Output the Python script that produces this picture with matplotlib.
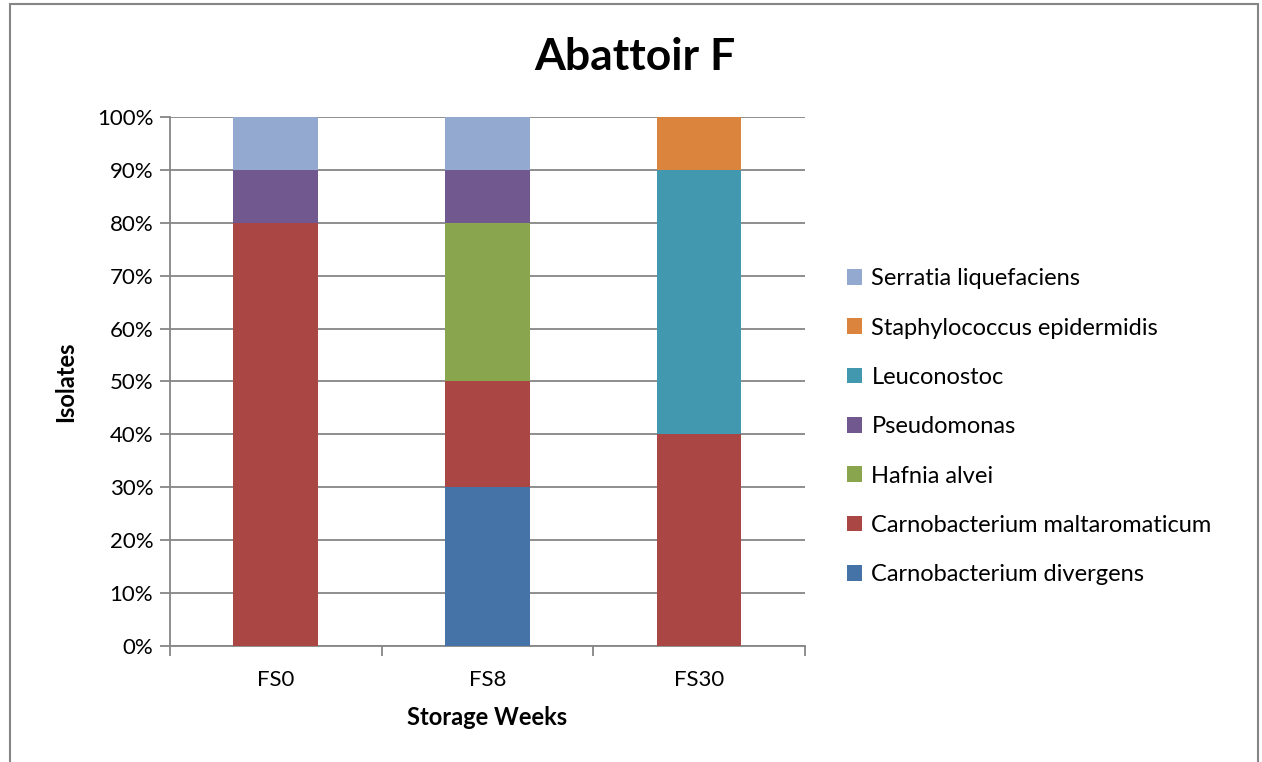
import matplotlib
matplotlib.use("Agg")
import matplotlib.pyplot as plt
from matplotlib.patches import Rectangle
import numpy as np

plt.rcParams['font.family'] = ['Lato', 'DejaVu Sans']

categories = ['FS0', 'FS8', 'FS30']
species = [
    'Carnobacterium divergens',
    'Carnobacterium maltaromaticum',
    'Hafnia alvei',
    'Pseudomonas',
    'Leuconostoc',
    'Staphylococcus epidermidis',
    'Serratia liquefaciens',
]
# percentage of isolates per sample, bottom to top
divergens = [0, 30, 0]
maltaromaticum = [80, 20, 40]
hafnia = [0, 30, 0]
pseudomonas = [10, 10, 0]
leuconostoc = [0, 0, 50]
staphylococcus = [0, 0, 10]
serratia = [10, 10, 0]
values = [divergens, maltaromaticum, hafnia, pseudomonas,
          leuconostoc, staphylococcus, serratia]
colors = ['#4572A7', '#AA4643', '#89A54E', '#71588F',
          '#4198AF', '#DB843D', '#93A9CF']

fig = plt.figure(figsize=(12.62, 7.62), dpi=100, facecolor='white')
ax = fig.add_axes([0.1347, 0.1522, 0.503, 0.6943])

x = np.arange(len(categories))
bottom = np.zeros(len(categories))
handles = []
for name, vals, col in zip(species, values, colors):
    bars = ax.bar(x, vals, width=0.4, bottom=bottom, color=col,
                  label=name, zorder=3, linewidth=0)
    handles.append(bars)
    bottom += np.array(vals)

ax.set_xlim(-0.5, len(categories) - 0.5)
ax.set_ylim(0, 100)
ax.set_yticks(np.arange(0, 101, 10))
ax.set_yticklabels([f'{v}%' for v in range(0, 101, 10)])
ax.yaxis.grid(True, color='#868686', linewidth=1.3, zorder=0)

ax.set_xticks(x)
ax.set_xticklabels(categories)
ax.set_xticks(np.arange(-0.5, len(categories)), minor=True)
ax.tick_params(axis='x', which='major', length=0, pad=17, labelsize=16)
ax.tick_params(axis='x', which='minor', length=7, width=1.3, color='#868686')
ax.tick_params(axis='y', length=7, width=1.3, color='#868686', pad=5,
               labelsize=16)

for side in ['top', 'right']:
    ax.spines[side].set_visible(False)
for side in ['left', 'bottom']:
    ax.spines[side].set_color('#868686')
    ax.spines[side].set_linewidth(1.3)

ax.set_xlabel('Storage Weeks', fontsize=17, fontweight='bold', labelpad=12)
ax.set_ylabel('Isolates', fontsize=17, fontweight='bold', labelpad=14)

fig.text(0.503, 0.925, 'Abattoir F', ha='center', va='center',
         fontsize=32, fontweight='bold')

leg = fig.legend(handles=handles[::-1], labels=species[::-1],
                 loc='center left', bbox_to_anchor=(0.654, 0.44),
                 frameon=False, fontsize=17, handlelength=0.65,
                 handleheight=0.65, handletextpad=0.4, labelspacing=1.2)

# outer chart border
fig.patches.append(Rectangle((0.008, -0.01), 0.989, 1.005,
                             transform=fig.transFigure, fill=False,
                             edgecolor='#868686', linewidth=1.5))

fig.savefig('out.png', dpi=100, facecolor='white')
